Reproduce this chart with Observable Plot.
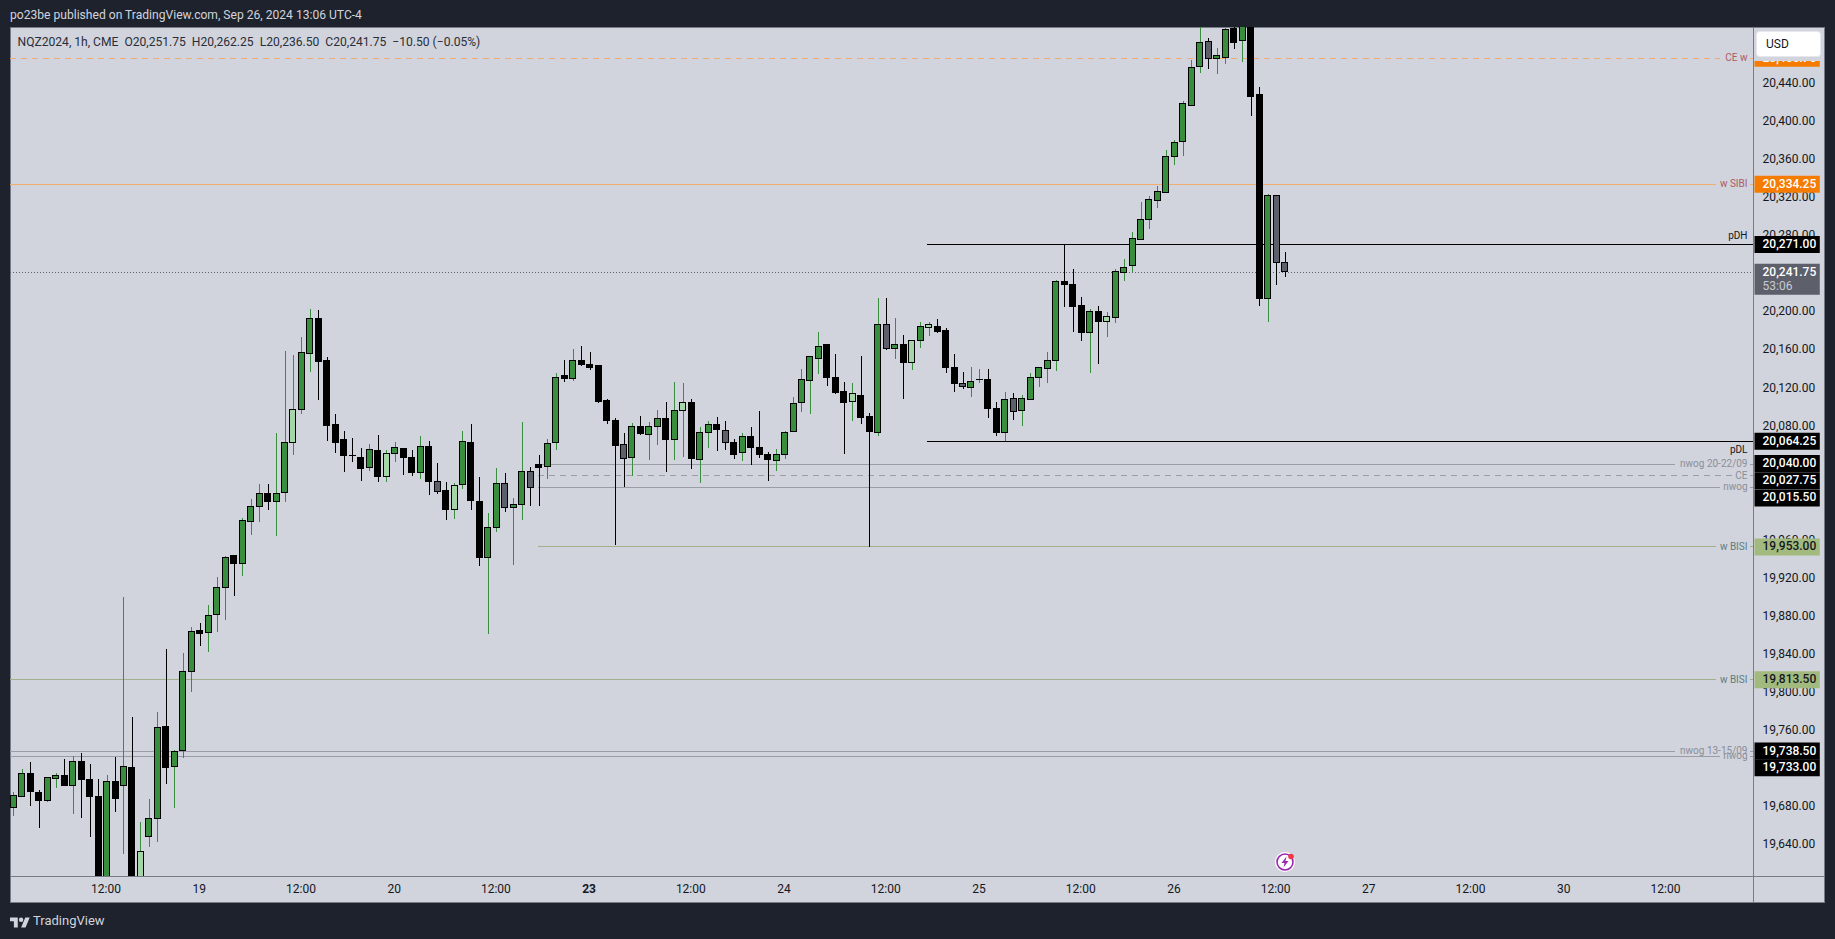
<!DOCTYPE html>
<html>
<head>
<meta charset="utf-8">
<script src="https://cdn.jsdelivr.net/npm/d3@7"></script>
<script src="https://cdn.jsdelivr.net/npm/@observablehq/plot@0.6"></script>
<style>
html,body{margin:0;padding:0;background:#1e222d;width:1835px;height:939px;overflow:hidden;font-family:Roboto,sans-serif}
#panel{position:absolute;left:10px;top:27px;width:1815px;height:876px;background:#d1d4dc;box-shadow:inset 0 0 0 1px #787b86}
#vline{position:absolute;left:1753px;top:27px;width:1px;height:876px;background:#787b86}
#hline{position:absolute;left:10px;top:876px;width:1815px;height:1px;background:#787b86}
#chart{position:absolute;left:0;top:0}
#chart svg{display:block}
#head{position:absolute;left:10px;top:7px;font-size:12.1px;line-height:16px;color:#d1d4dc;white-space:nowrap}
#foot{position:absolute;left:33px;top:912px;font-size:13px;line-height:18px;color:#d1d4dc;white-space:nowrap}
#logo{position:absolute;left:10px;top:915px}
#usdband{position:absolute;left:1754px;top:28px;width:70px;height:33px;background:#d1d4dc}
#usd{position:absolute;left:1757px;top:32px;width:63px;height:24px;background:#fff;border-radius:3px;font-size:12px;line-height:24px;color:#131722;text-indent:9px;box-shadow:0 0 0 1px #e6e8ee}
#spark{position:absolute;left:1273px;top:850px}
</style>
</head>
<body>
<div id="panel"></div>
<div id="vline"></div>
<div id="hline"></div>
<div id="chart"></div>
<div id="head">po23be published on TradingView.com, Sep 26, 2024 13:06 UTC-4</div>
<svg id="logo" width="20" height="16" viewBox="0 0 36 28"><path fill="#d1d4dc" d="M14 22H7V11H0V4h14v18zM28 22h-8l7.5-18h8L28 22z"/><circle fill="#d1d4dc" cx="20" cy="8" r="4"/></svg>
<div id="foot">TradingView</div>
<div id="usdband"></div>
<div id="usd">USD</div>
<svg id="spark" width="24" height="24" viewBox="0 0 24 24"><circle cx="12" cy="12" r="10" fill="#fff"/><circle cx="12" cy="12" r="8" fill="none" stroke="#9c27b0" stroke-width="1.6"/><path d="M13.5 6.5L8.5 13h3l-1 4.5 5-6.5h-3z" fill="#9c27b0"/><circle cx="18" cy="6.5" r="2.8" fill="#f23645"/></svg>
<script>
const opens = [
19679.3,19690.5,19715.1,19695.1,19686.3,19709.5,19713,19702.4,19727.7,19708.8,
19690.9,19590,19706.3,19702.4,19721.4,19590,19648.5,19667.4,19764.5,19722.1,
19738.9,19821.9,19865.4,19863.3,19882.2,19910.2,19943.5,19935.8,19979.6,19995.4,
20009.4,20000.6,20010.1,20062.7,20097.7,20156.2,20192.3,20149.2,20081.9,20066.1,
20049.3,20047.2,20035.7,20054.6,20026.9,20051,20056.7,20047.2,20031.1,20058.8,
20022,20012.5,19992.2,20018.5,20063,20001,19941.8,19973.3,20018.9,19994.3,
19997.5,20032.5,20039.9,20037.4,20062.7,20132.4,20130,20149.2,20145,20142.9,
20107.1,20086.1,20060.9,20046.9,20078.8,20071,20078.8,20087.2,20065.8,20096.3,
20105,20044.8,20073.2,20080.9,20075.6,20063,20052.1,20068.3,20057.7,20050.4,
20043.7,20050,20074.2,20104.7,20127.8,20151,20165,20131.3,20115.6,20105.8,
20112.4,20090.3,20073.2,20187,20161.5,20165,20146.7,20169.9,20183.5,20184.9,
20179.7,20141.8,20125,20120.5,20129.2,20129.2,20098.7,20073.2,20109.2,20096.3,
20107.8,20131,20140.4,20148.8,20231.5,20229,20206,20178.3,20199.7,20189.8,
20194,20241.4,20248,20276,20297,20317,20325.4,20363.3,20379,20416.9,
20457.9,20483.5,20466.3,20467.3,20497.5,20485.2,20510,20428.1,20214,20321.6,20251.75];
const highs = [
19695.1,19719.3,19727,19697.6,19710.9,19715.1,19729.8,19733.3,19736.1,19724.5,
19708.8,19713,19732.2,19900.1,19773.9,19663.9,19687.7,19779.5,19845.4,19739.6,
19841.2,19868.9,19872.8,19891.7,19921.1,19942.8,19944.6,19983.1,20003.4,20018.9,
20018.9,20072.5,20159,20154.8,20173.7,20203.2,20201.8,20152.4,20092.4,20074.6,
20067.2,20056.7,20061.2,20070.7,20054.6,20063,20056.7,20054.6,20069.6,20064,
20041.3,20021.3,20019.9,20074.9,20082.3,20026.6,19988.7,20035.7,20030.8,20004.1,
20084,20037.1,20049.3,20066.1,20135.5,20149.5,20160.7,20164.3,20158,20144.3,
20108.5,20088.2,20072.5,20083,20090.7,20084,20097,20105.4,20126,20125,
20108.2,20078.8,20085.1,20089.3,20085.1,20066.2,20072.8,20079.1,20095.6,20052.8,
20055.6,20074.6,20110.3,20139.7,20153.8,20178.6,20165,20155.9,20126.4,20125,
20153.8,20093.5,20214.7,20214.7,20193.7,20175.8,20170.2,20189.1,20189.1,20192.6,
20183.2,20155.5,20136.6,20142.2,20139.7,20139.7,20105,20115.6,20114.9,20112.8,
20135.5,20140.8,20158,20233.6,20271.1,20244.9,20215.4,20202.8,20206,20199.7,
20244.9,20255.7,20283.7,20315.6,20321.6,20332.1,20370,20380.5,20421.5,20464.6,
20505,20487.7,20477.5,20498.5,20505,20515,20520,20436.2,20324,20321.6,20262.25];
const lows = [
19670.2,19690.5,19680.7,19657.6,19684.2,19699,19701.1,19672.3,19667.4,19647.4,
19580,19580,19674.4,19630.3,19580,19585,19637.6,19642.9,19703.9,19678.6,
19731.2,19799.9,19848.2,19842.6,19863.6,19875.6,19900.8,19922.5,19965.6,19978.6,
19991.2,19964.6,20000.3,20049.7,20092.8,20137,20106.8,20064.4,20051.8,20031.8,
20042.3,20022.4,20032.2,20021.3,20021.3,20042.3,20028.7,20027.6,20024.5,20007.6,
20008.7,19981.4,19982.4,20014,19991.9,19933,19861.6,19968,19989.1,19934,
19981.4,19996.1,19996.1,20024.5,20054.9,20125.7,20126.8,20143.2,20139,20104.4,
20082.3,19955.1,20016,20026.9,20070.7,20044.4,20060.2,20031.8,20044.4,20047.6,
20035,20019.5,20057.1,20053.9,20055,20045.5,20043.4,20039.2,20046.5,20022.4,
20032.9,20045.5,20074.2,20094.9,20092.8,20134.8,20122.2,20113.8,20050.7,20085.4,
20082.3,19953,20069,20160,20150.6,20108.6,20139,20162.2,20174,20177.9,
20135.9,20115.9,20119.1,20110,20125.4,20088.6,20069.7,20064,20086.5,20080.2,
20107.8,20121.2,20125.4,20138,20205.3,20179,20169.5,20135.9,20145.3,20173.7,
20188.4,20232.6,20241.7,20276,20287.3,20309.3,20325.4,20354.5,20364,20416.9,
20451.2,20455.4,20450.2,20460.7,20476.5,20462.8,20405.3,20206.3,20188.8,20228.4,20236.5];
const closes = [
19691.9,19715.1,19695.8,19686.3,19710.9,19713,19702.1,19727.7,19708.8,19690.5,
19590,19706.3,19688.4,19722.1,19590,19633.1,19667.8,19763.4,19721,19738.2,
19822.3,19864.3,19861.9,19881.2,19910.6,19942.1,19935.5,19980,19995.7,20009.4,
20000.6,20009.4,20063,20097.7,20156.6,20192.3,20147.8,20080.5,20062.7,20049,
20049.3,20035.3,20055.6,20026.9,20051.4,20057.7,20046.9,20031.1,20058.8,20021.7,
20011.1,19992.2,20017.8,20064,20001.7,19941.8,19973.6,20018.9,19994.3,19997.8,
20032.5,20015.3,20036.4,20061.9,20131.3,20130,20149.2,20144.6,20141.5,20105.7,
20085.8,20059.5,20045.2,20078.8,20072.1,20078.8,20087.2,20065.8,20096.6,20105,
20045.5,20073.5,20080.9,20076.3,20062.7,20050,20069.3,20057.4,20050,20044.8,
20050,20073.5,20104,20128.2,20152.4,20163.9,20131,20114.9,20104.7,20113.5,
20088.9,20074.2,20187,20161.5,20165,20146.7,20170.2,20184.9,20186,20179,
20141.5,20124.7,20121.5,20127.1,20129.2,20098.4,20073.2,20108.2,20095.2,20109.2,
20130.3,20140.8,20149.2,20232.2,20228.7,20205.3,20178.3,20200.7,20189.8,20194.4,
20241.7,20246.9,20277.4,20296.4,20317.4,20325.8,20363.6,20378.3,20418.3,20456.1,
20482.4,20466.3,20468.8,20496.1,20483.1,20510,20426.4,20214,20321.6,20251.9,20241.75];
const kinds = ("ggkkggkgkk"+"kgkgklggkg"+"ggkgggkggg"+"kgglggkkkk"+"kkgklgkkgk"+"sklgkkggsg"+
  "gskggkgkkk"+"kksgkggkgl"+"kggkskgkkk"+"ggggggkkkl"+"kkgsgklglk"+"kksggkkgsg"+"ggggkkkgkl"+
  "gggggggggg"+"gsggkgkkgss").split("");

const yTicks = [20440,20400,20360,20320,20280,20200,20160,20120,20080,19960,19920,19880,19840,19800,19760,19680,19640];
const hourTicks = [11,34,57,80,103,126,149,172,195];
const dayTicks = [22,45,91,114,137,160,183];
const dayLabels = ["19","20","24","25","26","27","30"];
const boldDayTicks = [68];
const boldDayLabels = ["23"];

const levelNames  = ["CE w","w SIBI","nwog 20-22/09","CE","nwog","w BISI","w BISI","nwog 13-15/09","nwog"];
const levelPrices = [20466.75,20334.25,20040,20027.75,20015.5,19953,19813.5,19738.5,19733];
const levelStarts = [-0.39,-0.39,61.9,61.9,61.9,61.9,-0.39,-0.39,-0.39];
const levelGaps   = [201.4,200.9,196.1,202.8,201.4,200.9,200.9,196.1,201.4];
const levelColors = ["#f0ad6e","#f0ad6e","#9a9ca6","#9a9ca6","#9a9ca6","#9fb08a","#9fb08a","#9a9ca6","#9a9ca6"];
const levelText   = ["#ad5a66","#ad5a66","#8b8e99","#8b8e99","#8b8e99","#5f7d80","#5f7d80","#8b8e99","#8b8e99"];
const levelDash   = ["6 5",null,null,"6 5",null,null,null,null,null];

const edgeNames  = ["pDH","pDL"];
const edgePrices = [20271,20064.25];
const edgeStart  = 107.8;

const lastPrice = 20241.75;
const lastCountdown = "53:06";

const tagValues = [20466.75,20334.25,20271,20241.75,20064.25,20040,20027.75,20015.5,19953,19813.5,19738.5,19733];
const tagFills  = ["#f57c00","#f57c00","#000000","#5d606b","#000000","#000000","#000000","#000000","#a3ba7e","#a3ba7e","#000000","#000000"];
const tagInk    = ["#ffffff","#ffffff","#ffffff","#ffffff","#ffffff","#ffffff","#ffffff","#ffffff","#131722","#131722","#ffffff","#ffffff"];
const tagShift  = [0,0,0,0,0,-0.6,5,10.4,0,0,0,11.4];

const legend = "NQZ2024, 1h, CME\u00a0\u00a0O20,251.75\u00a0\u00a0H20,262.25\u00a0\u00a0L20,236.50\u00a0\u00a0C20,241.75\u00a0\u00a0\u221210.50 (\u22120.05%)";

const GREEN="#388e3c", LIGHT="#a5d6a7", SLATE="#5d606b", BLACK="#000000";
const fillOf = {g:GREEN,l:LIGHT,s:SLATE,k:BLACK};
const wickOf = {g:GREEN,l:GREEN,s:BLACK,k:BLACK};

const bars = opens.map((o,i)=>({i,o,h:highs[i],l:lows[i],c:closes[i],kind:kinds[i]}));
const levels = levelNames.map((name,i)=>({name,price:levelPrices[i],start:levelStarts[i],gap:levelGaps[i],color:levelColors[i],ink:levelText[i],dash:levelDash[i]}));
const fmt = d3.format(",.2f");
const xMin=-0.39, xMax=205.27, tagA=205.45, tagB=213.15, segA=204.9;

const marks = [];
// level lines, behind the candles
for (const d of levels) {
  marks.push(Plot.ruleY([d],{x1:d.start,x2:d.gap,y:"price",dy:-0.2,stroke:d.color,strokeWidth:1,strokeDasharray:d.dash,shapeRendering:"crispEdges"}));
  marks.push(Plot.ruleY([d],{x1:segA,x2:xMax,y:"price",dy:-0.2,stroke:d.color,strokeWidth:1,shapeRendering:"crispEdges"}));
}
marks.push(Plot.ruleY(edgePrices,{x1:edgeStart,x2:xMax,y:d=>d,dy:-0.2,stroke:"#000",strokeWidth:1,shapeRendering:"crispEdges"}));
marks.push(Plot.ruleY([lastPrice],{x1:xMin,x2:xMax,y:d=>d,dy:-0.2,stroke:SLATE,strokeWidth:1,strokeDasharray:"1 2",shapeRendering:"crispEdges"}));

// candles
marks.push(Plot.ruleX(bars,{x:"i",y1:"l",y2:"h",stroke:d=>wickOf[d.kind],strokeWidth:1,clip:true,shapeRendering:"crispEdges"}));
marks.push(Plot.rect(bars,{x1:d=>d.i-0.354,x2:d=>d.i+0.354,y1:"o",y2:"c",fill:d=>fillOf[d.kind],stroke:"#000",strokeWidth:1,clip:true,shapeRendering:"crispEdges"}));
marks.push(Plot.ruleY(bars.filter(d=>Math.abs(d.o-d.c)<0.5),{x1:d=>d.i-0.4,x2:d=>d.i+0.4,y:"c",dy:-0.5,stroke:"#000",strokeWidth:1,shapeRendering:"crispEdges"}));

// axes
marks.push(Plot.axisY(yTicks,{anchor:"right",tickSize:0,tickPadding:9,dy:-0.6,tickFormat:d=>fmt(d),label:null,fontSize:12,fill:"#131722"}));
marks.push(Plot.axisX(hourTicks,{anchor:"bottom",tickSize:0,tickPadding:8,dx:-1,tickFormat:()=>"12:00",label:null,fontSize:12,fill:"#131722"}));
marks.push(Plot.axisX(dayTicks,{anchor:"bottom",tickSize:0,tickPadding:8,dx:-1,tickFormat:d=>dayLabels[dayTicks.indexOf(d)],label:null,fontSize:12,fill:"#131722"}));
marks.push(Plot.axisX(boldDayTicks,{anchor:"bottom",tickSize:0,tickPadding:8,dx:-1,tickFormat:d=>boldDayLabels[boldDayTicks.indexOf(d)],label:null,fontSize:12,fontWeight:"bold",fill:"#131722"}));

// line labels
for (const d of levels) {
  marks.push(Plot.text([d],{y:"price",text:"name",frameAnchor:"right",textAnchor:"end",dx:-6,dy:-0.6,fontSize:10,fill:d.ink}));
}
marks.push(Plot.text([edgeNames[0]],{y:()=>edgePrices[0],text:d=>d,frameAnchor:"right",textAnchor:"end",dx:-6,dy:-8.6,fontSize:10,fill:"#131722"}));
marks.push(Plot.text([edgeNames[1]],{y:()=>edgePrices[1],text:d=>d,frameAnchor:"right",textAnchor:"end",dx:-6,dy:8.4,fontSize:10,fill:"#131722"}));

// price tags
tagValues.forEach((v,i)=>{
  const isLast = v===lastPrice;
  marks.push(Plot.ruleY([v],{x1:tagA,x2:tagB,y:d=>d,dy:tagShift[i]+(isLast?7:0)-0.2,stroke:tagFills[i],strokeWidth:isLast?31:17}));
});
tagValues.forEach((v,i)=>{
  marks.push(Plot.text([v],{y:d=>d,text:d=>fmt(d),frameAnchor:"right",textAnchor:"start",dx:9,dy:tagShift[i]-0.6,fontSize:12,fontWeight:500,fill:tagInk[i]}));
});
marks.push(Plot.text([lastCountdown],{y:()=>lastPrice,text:d=>d,frameAnchor:"right",textAnchor:"start",dx:9,dy:13.4,fontSize:12,fill:"#c8cad2"}));

// legend line
marks.push(Plot.text([legend],{text:d=>d,frameAnchor:"top-left",textAnchor:"start",dx:7,dy:10,fontSize:12.1,fill:"#2a2e39"}));

const plot = Plot.plot({
  width:1835,height:939,
  marginLeft:10,marginRight:82,marginTop:27,marginBottom:63,
  x:{domain:[xMin,xMax],range:[10,1753],axis:null},
  y:{domain:[19606.9,20499.6],range:[876,26.6],axis:null},
  style:{background:"transparent",fontFamily:"Roboto, sans-serif",fontSize:"12px"},
  marks
});
document.getElementById("chart").appendChild(plot);
</script>
</body>
</html>
